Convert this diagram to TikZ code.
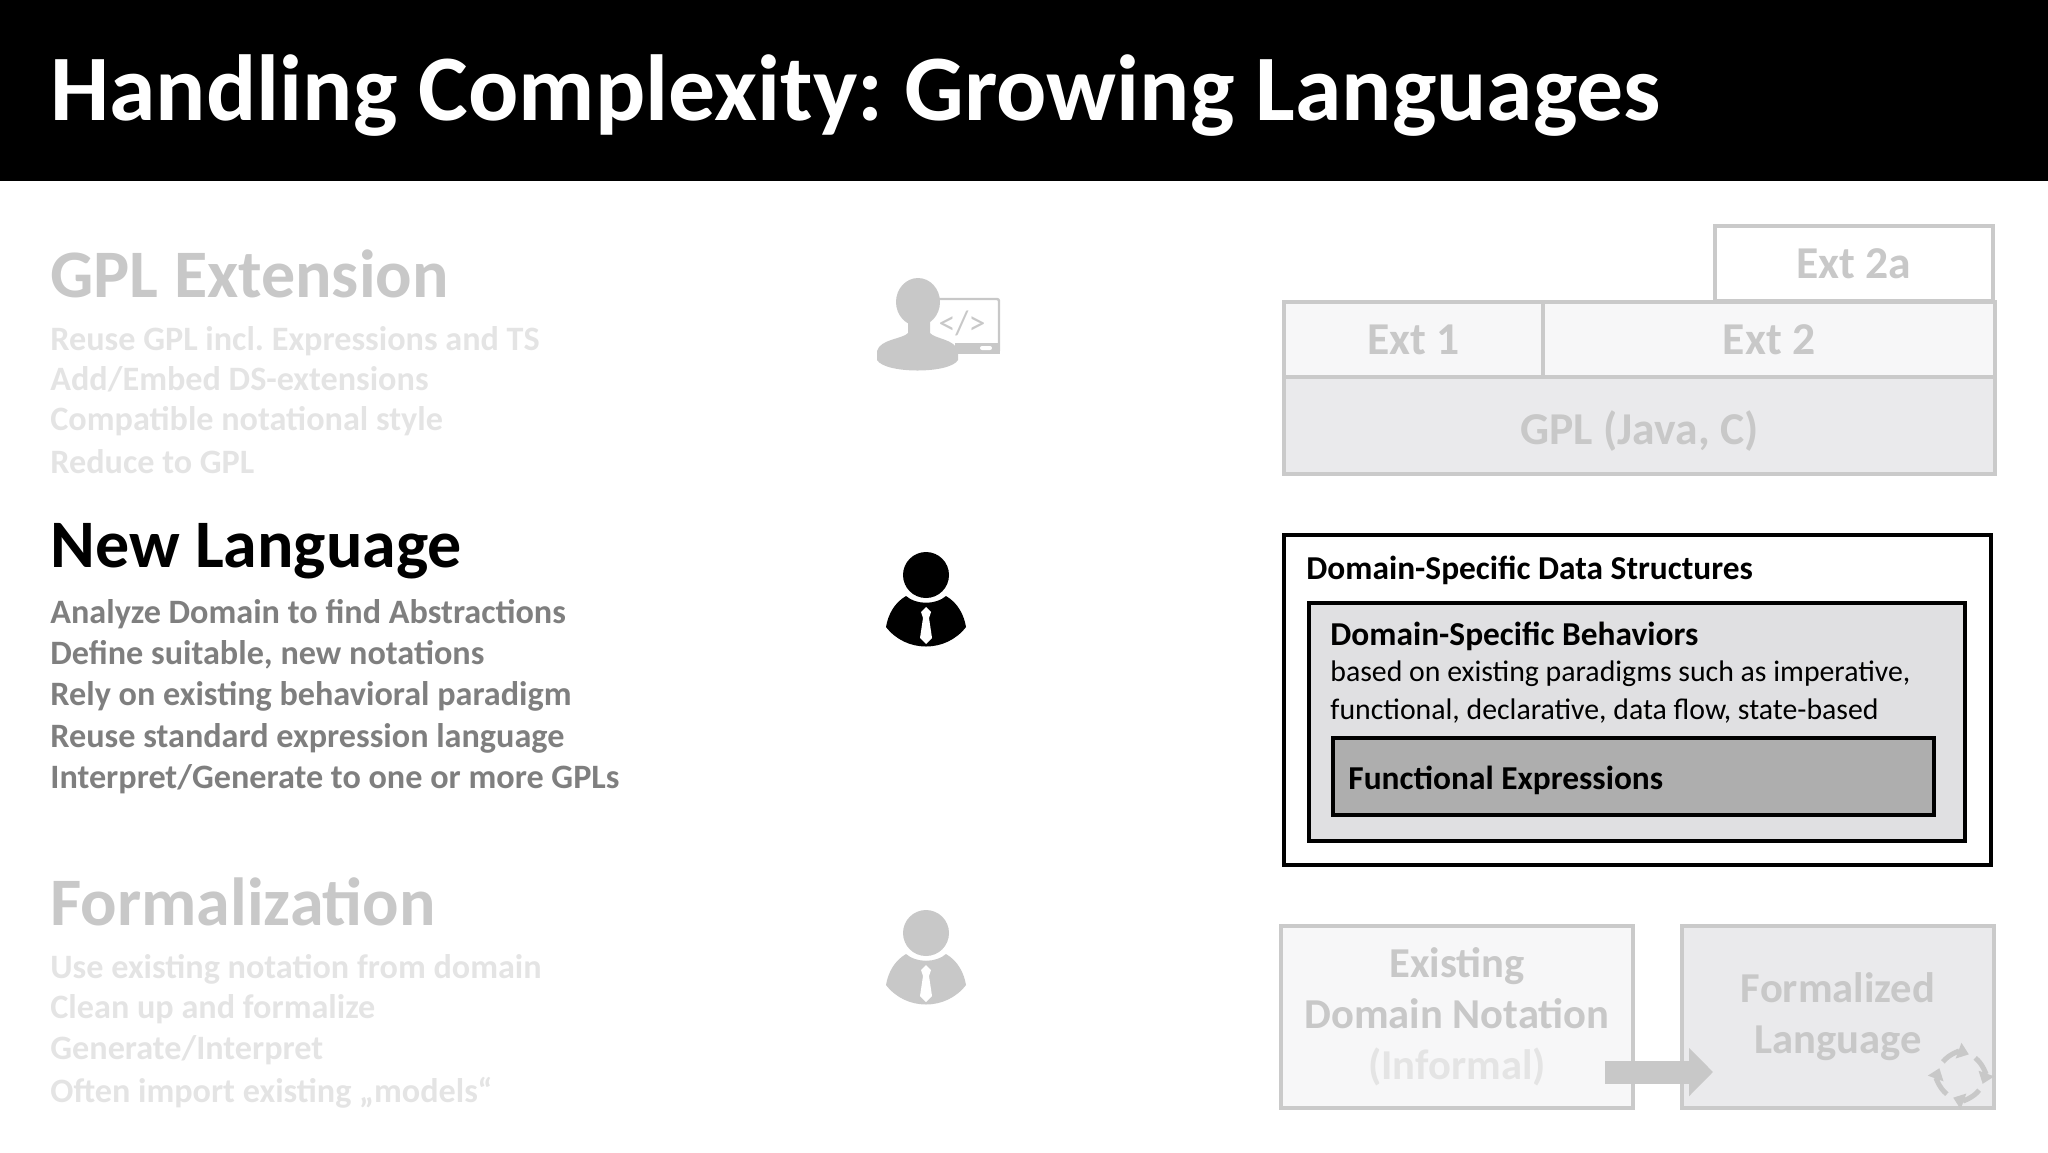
\documentclass[tikz,border=0pt]{standalone}
\usepackage{fontspec}
\setmainfont{Carlito}
\usetikzlibrary{arrows.meta}
\definecolor{fadetext}{HTML}{C8C8C8}
\definecolor{fadeline}{HTML}{E4E4E4}
\definecolor{midtext}{HTML}{7F7F7F}
\definecolor{fadeborder}{HTML}{CACACA}
\definecolor{fillpale}{HTML}{F7F7F8}
\definecolor{fillmid}{HTML}{EAEAEC}
\definecolor{fillinner}{HTML}{E0E0E2}
\definecolor{filldeep}{HTML}{AEAEAE}
\tikzset{
  headline/.style={anchor=base west,inner sep=0pt,font=\fontsize{34}{40}\selectfont\bfseries},
  itemline/.style={anchor=base west,inner sep=0pt,font=\fontsize{17.1}{20}\selectfont\bfseries},
  fadebox/.style={draw=fadeborder,line width=2.2pt,anchor=north west,inner sep=0pt,outer sep=0pt,text=fadetext,font=\fontsize{22.8}{25.5}\selectfont\bfseries,align=center},
  lowbox/.style={fadebox,font=\fontsize{21.3}{25.5}\selectfont\bfseries},
  blackbox/.style={draw=black,line width=2pt,anchor=north west,inner sep=0pt,outer sep=0pt},
  boxtext/.style={anchor=base west,inner sep=0pt,font=\fontsize{14.9}{20}\selectfont},
  boldtext/.style={anchor=base west,inner sep=0pt,font=\fontsize{16.7}{20}\selectfont\bfseries},
  sized/.style 2 args={minimum width=#1*0.5pt,minimum height=#2*0.5pt}
}
\newcommand{\tieperson}[3]{
\begin{scope}[shift={(#1,#2)}]
\fill[#3] (0,0) circle (23);
\fill[#3] (-20,21) .. controls (-10,30) and (10,30) .. (20,21) .. controls (32,28) and (38,40) .. (40,52)
  .. controls (20,78) and (-20,78) .. (-40,52) .. controls (-38,40) and (-32,28) .. (-20,21) -- cycle;
\fill[white] (0,32) -- (5,37) -- (3,43) -- (6,63) -- (0,69) -- (-6,63) -- (-3,43) -- (-5,37) -- cycle;
\end{scope}
}
\begin{document}
\frenchspacing
\begin{tikzpicture}[x=0.5pt,y=-0.5pt]
\useasboundingbox (0,0) rectangle (2048,1152);
\fill[black] (0,0) rectangle (2048,181);
\node[anchor=base west,inner sep=0pt,text=white,font=\fontsize{46.9}{52}\selectfont\bfseries] (title) at (50,120) {Handling Complexity: Growing Languages};

\node[headline,text=fadetext] (gplhead) at (50,297) {GPL Extension};
\node[itemline,text=fadeline] (gplone) at (50,350) {Reuse GPL incl. Expressions and TS};
\node[itemline,text=fadeline] (gpltwo) at (50,390) {Add/Embed DS-extensions};
\node[itemline,text=fadeline] (gplthree) at (50,430) {Compatible notational style};
\node[itemline,text=fadeline] (gplfour) at (50,473) {Reduce to GPL};

\node[headline,text=black] (newhead) at (50,567) {New Language};
\node[itemline,text=midtext] (newone) at (50,623) {Analyze Domain to find Abstractions};
\node[itemline,text=midtext] (newtwo) at (50,664) {Define suitable, new notations};
\node[itemline,text=midtext] (newthree) at (50,705) {Rely on existing behavioral paradigm};
\node[itemline,text=midtext] (newfour) at (50,747) {Reuse standard expression language};
\node[itemline,text=midtext] (newfive) at (50,788) {Interpret/Generate to one or more GPLs};

\node[headline,text=fadetext] (formhead) at (50,925) {Formalization};
\node[itemline,text=fadeline] (formone) at (50,978) {Use existing notation from domain};
\node[itemline,text=fadeline] (formtwo) at (50,1018) {Clean up and formalize};
\node[itemline,text=fadeline] (formthree) at (50,1059) {Generate/Interpret};
\node[itemline,text=fadeline] (formfour) at (50,1102) {Often import existing „models“};

% coding person
\fill[fadetext] (918,302) ellipse (22 and 24);
\fill[fadetext] (908,322) -- (930,322) -- (930,333) .. controls (935,339) and (955,339) .. (958,351) -- (958,360) .. controls (950,374) and (885,374) .. (877,360) -- (877,351) .. controls (880,339) and (903,339) .. (908,333) -- cycle;
\draw[fadetext,line width=1.2pt,rounded corners=1pt] (938,299) -- (999,299) -- (999,352) -- (955,352);
\fill[fadetext] (955,343) rectangle (1000,354);
\fill[white,rounded corners=1pt] (980,346) rectangle (992,350);
\node[inner sep=0pt,text=fadetext,font=\fontsize{17}{20}\selectfont] (codemark) at (962,323) {</>};

\tieperson{926}{575}{black}
\tieperson{926}{933}{fadetext}

\node[fadebox,fill=white,sized={278}{75}] (exttwoa) at (1715,226) {Ext 2a};
\node[fadebox,fill=fillpale,sized={259}{75}] (extone) at (1284,302) {Ext 1};
\node[fadebox,fill=fillpale,sized={452}{75}] (exttwo) at (1543,302) {Ext 2};
\node[fadebox,fill=fillmid,sized={711}{97},text height=22pt,text depth=3.5pt] (gplbox) at (1284,377) {GPL (Java, C)};

\node[blackbox,fill=white,sized={707}{330}] (databox) at (1284,535) {};
\node[boldtext] (datatext) at (1306,579) {Domain-Specific Data Structures};
\node[blackbox,fill=fillinner,sized={656}{238}] (behavbox) at (1309,603) {};
\node[boldtext] (behavtext) at (1330,645) {Domain-Specific Behaviors};
\node[boxtext] (behavone) at (1330,681) {based on existing paradigms such as imperative,};
\node[boxtext] (behavtwo) at (1330,719) {functional, declarative, data flow, state-based};
\node[blackbox,fill=filldeep,sized={601}{77}] (exprbox) at (1333,738) {};
\node[boldtext] (exprtext) at (1348,789) {Functional Expressions};

\node[lowbox,fill=fillpale,sized={352}{182}] (informal) at (1281,926) {Existing\\Domain Notation\\\textcolor{fadeline}{(Informal)}};
\node[lowbox,fill=fillmid,sized={312}{182}] (formal) at (1682,926) {Formalized\\Language};

\coordinate (arrowfrom) at (1605,1072);
\coordinate (arrowto) at (1713,1072);
\draw[fadetext,line width=11.5pt,-{Triangle[length=12pt,width=23.5pt]}] (arrowfrom) -- (arrowto);

\foreach \a in {20,110,200,290}
  \draw[fadetext,line width=2.5pt,-{Triangle[length=5.5pt,width=8pt]}] (1961,1076) ++(\a-72:23) arc[start angle=\a-72,end angle=\a,radius=23];
\end{tikzpicture}
\end{document}
